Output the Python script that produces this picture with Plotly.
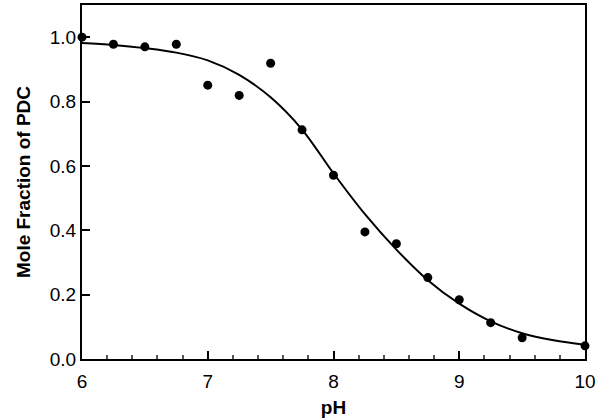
import plotly.graph_objects as go

# measured points
ph = [6.0, 6.25, 6.5, 6.75, 7.0, 7.25, 7.5, 7.75, 8.0, 8.25, 8.5, 8.75, 9.0, 9.25, 9.5, 10.0]
mole_frac = [1.00, 0.978, 0.970, 0.978, 0.851, 0.819, 0.919, 0.712, 0.571, 0.395, 0.358, 0.253, 0.184, 0.113, 0.066, 0.041]

# fitted curve
fit_ph = [6.0, 6.25, 6.5, 6.75, 7.0, 7.25, 7.5, 7.75, 8.0, 8.25, 8.5, 8.75, 9.0, 9.25, 9.5, 9.75, 10.0]
fit_frac = [0.982, 0.976, 0.966, 0.952, 0.928, 0.883, 0.813, 0.713, 0.577, 0.45, 0.34, 0.245, 0.172, 0.117, 0.080, 0.058, 0.044]

x_ticks = [6, 7, 8, 9, 10]
y_ticks = [0.0, 0.2, 0.4, 0.6, 0.8, 1.0]

font = 'Arial, Liberation Sans, sans-serif'

fig = go.Figure()
fig.add_trace(go.Scatter(x=fit_ph, y=fit_frac, mode='lines',
                         line=dict(color='black', width=2, shape='spline', smoothing=1.0),
                         showlegend=False, cliponaxis=False))
fig.add_trace(go.Scatter(x=ph, y=mole_frac, mode='markers',
                         marker=dict(color='black', size=9),
                         showlegend=False, cliponaxis=False))

fig.update_layout(
    width=602, height=420,
    margin=dict(l=82, r=17, t=5, b=61),
    paper_bgcolor='white', plot_bgcolor='white',
    font=dict(family=font, size=19, color='black'),
    xaxis=dict(range=[6, 10], tickvals=x_ticks, ticktext=[str(v) for v in x_ticks],
               ticks='inside', ticklen=8, tickwidth=1.5, tickcolor='black',
               minor=dict(dtick=0.2, ticks='inside', ticklen=4, tickcolor='#555'),
               showline=True, linecolor='black', linewidth=2, mirror=True,
               showgrid=False, zeroline=False, automargin=False, ticklabelstandoff=4,
               title=dict(text='<b>pH</b>', font=dict(size=19), standoff=10)),
    yaxis=dict(range=[0, 1.1], tickvals=y_ticks, ticktext=['%.1f' % v for v in y_ticks],
               ticks='inside', ticklen=8, tickwidth=1.5, tickcolor='black',
               showline=True, linecolor='black', linewidth=2, mirror=True,
               showgrid=False, zeroline=False, automargin=False,
               title=dict(text='<b>Mole Fraction of PDC</b>', font=dict(size=19), standoff=14)),
)

# page has a default 8px body margin; drop it so the figure sits at the corner
fig.write_html("out.html", config={'displayModeBar': False},
               post_script="document.body.style.margin='0';")
